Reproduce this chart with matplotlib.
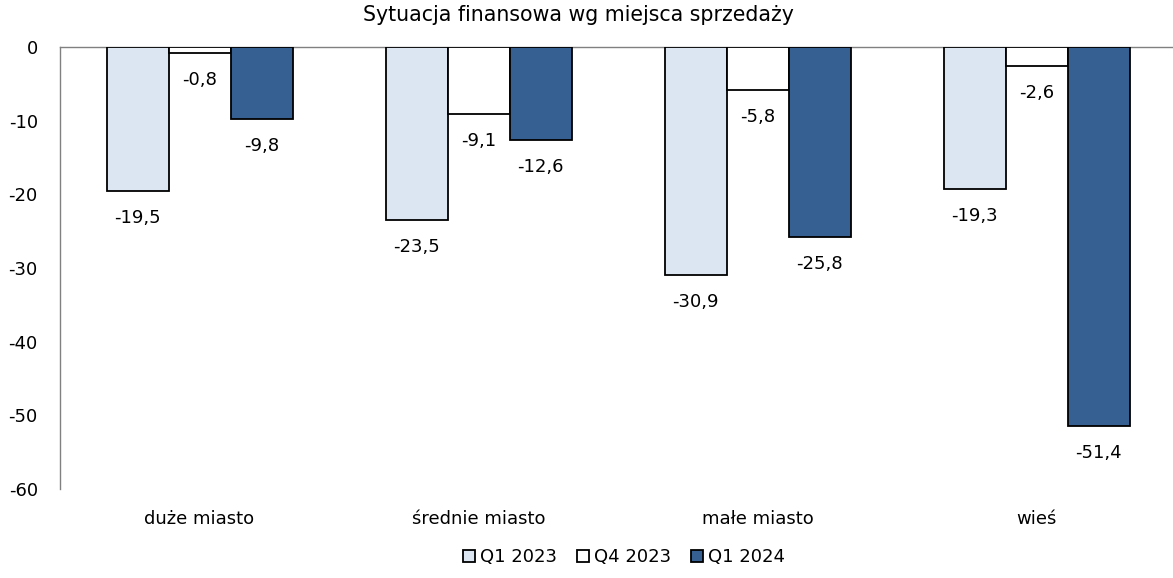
import matplotlib
matplotlib.use("Agg")
import matplotlib.pyplot as plt
import numpy as np
from matplotlib.patches import Patch

categories = ["duże miasto", "średnie miasto", "małe miasto", "wieś"]
series_names = ["Q1 2023", "Q4 2023", "Q1 2024"]
q1_2023 = [-19.5, -23.5, -30.9, -19.3]
q4_2023 = [-0.8, -9.1, -5.8, -2.6]
q1_2024 = [-9.8, -12.6, -25.8, -51.4]
colors = ["#DCE6F2", "#FFFFFF", "#366092"]
title = "Sytuacja finansowa wg miejsca sprzedaży"
yticks = [0, -10, -20, -30, -40, -50, -60]

plt.rcParams['font.family'] = ['DejaVu Sans']
FS = 13

fig = plt.figure(figsize=(11.73, 5.78), dpi=100)
ax = fig.add_axes([60/1173, 89/578, 1116/1173, 442/578])

x = np.arange(len(categories))
w = 62/279
series = [q1_2023, q4_2023, q1_2024]
for i, (vals, c) in enumerate(zip(series, colors)):
    pos = x + (i - 1) * w
    bars = ax.bar(pos, vals, width=w, color=c, edgecolor="black", linewidth=1.3, zorder=3)
    for b, v in zip(bars, vals):
        ax.annotate(f"{v:.1f}".replace(".", ","), (b.get_x() + b.get_width()/2, v),
                    xytext=(0, -13), textcoords="offset points", ha="center", va="top",
                    fontsize=FS, color="black")

ax.set_xlim(-0.5, 3.5)
ax.set_ylim(-60, 0)
ax.set_yticks(yticks)
ax.set_yticklabels([str(t) for t in yticks], fontsize=FS)
ax.set_xticks(x)
ax.set_xticklabels(categories, fontsize=FS)
ax.tick_params(axis="y", length=0, pad=16)
ax.tick_params(axis="x", length=0, pad=15)
for s in ["right", "bottom"]:
    ax.spines[s].set_visible(False)
ax.spines["left"].set_color("#808080")
ax.spines["top"].set_color("#808080")
ax.spines["left"].set_linewidth(1)
ax.spines["top"].set_linewidth(1)

fig.text(578/1173, 1 - 15/578, title, ha="center", va="center", fontsize=14.8)

handles = [Patch(facecolor=c, edgecolor="black", linewidth=1.3) for c in colors]
fig.legend(handles, series_names, loc="center", bbox_to_anchor=(624/1173, 1 - 557/578),
           ncol=3, frameon=False, fontsize=FS, handlelength=0.65, handleheight=0.65,
           handletextpad=0.3, columnspacing=1.1)

fig.savefig("out.png", dpi=100)
